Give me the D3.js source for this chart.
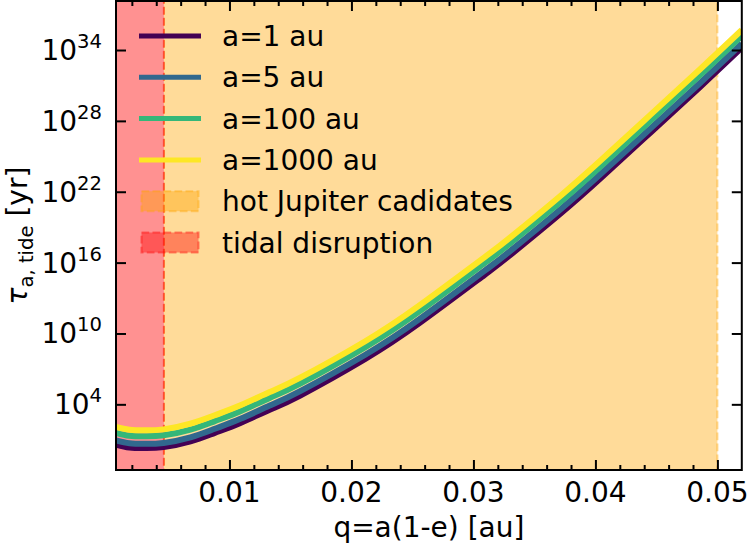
<!DOCTYPE html>
<html>
<head>
<meta charset="utf-8">
<script src="https://cdn.jsdelivr.net/npm/d3@7/dist/d3.min.js"></script>
<style>
  html, body { margin: 0; padding: 0; background: #fff; }
  svg { display: block; }
  text { font-family: "DejaVu Sans", sans-serif; fill: #000; }
</style>
</head>
<body>
<svg id="chart" width="749" height="546"></svg>
<script>
// ---------------- data ----------------
const q = [0.0007, 0.0018, 0.0031, 0.0046, 0.0068, 0.0088, 0.0109, 0.0133, 0.0158,
           0.0211, 0.0256, 0.0309, 0.0330, 0.0371, 0.0404, 0.0445, 0.0486, 0.0520];
const tau_a1 = [3.9, 2.2, 2.0, 2.4, 7.2, 38, 2.6e2, 3.5e3, 5.6e4,
                6.6e7, 7.8e10, 8.9e14, 4.2e16, 1.3e20, 1.3e23, 1.0e27, 7.8e30, 1.6e34];
const tau_a5 = [8.7, 5.0, 4.5, 5.4, 16, 85, 5.9e2, 7.8e3, 1.3e5,
                1.5e8, 1.7e11, 2.0e15, 9.3e16, 3.0e20, 3.0e23, 2.2e27, 1.7e31, 3.5e34];
const tau_a100 = [39, 22, 20, 24, 72, 3.8e2, 2.6e3, 3.5e4, 5.6e5,
                  6.6e8, 7.8e11, 8.9e15, 4.2e17, 1.3e21, 1.3e24, 1.0e28, 7.8e31, 1.6e35];
const tau_a1000 = [1.2e2, 71, 63, 76, 2.3e2, 1.2e3, 8.3e3, 1.1e5, 1.8e6,
                   2.1e9, 2.5e12, 2.8e16, 1.3e18, 4.2e21, 4.2e24, 3.2e28, 2.5e32, 5.0e35];
const seriesLabels = ["a=1 au", "a=5 au", "a=100 au", "a=1000 au"];
const seriesColors = ["#440154", "#31688e", "#35b779", "#fde725"];
const tidalDisruptionQ = 0.00463;
const hotJupiterMaxQ = 0.05;
const xTicks = [0.01, 0.02, 0.03, 0.04, 0.05];
const xTickLabels = ["0.01", "0.02", "0.03", "0.04", "0.05"];
const xMinorTicks = [0.002, 0.004, 0.006, 0.008, 0.012, 0.014, 0.016, 0.018, 0.022, 0.024, 0.026, 0.028,
                     0.032, 0.034, 0.036, 0.038, 0.042, 0.044, 0.046, 0.048];
const yTickExp = [4, 10, 16, 22, 28, 34];
const patchLabels = ["hot Jupiter cadidates", "tidal disruption"];
const xLabel = "q=a(1-e) [au]";

// ---------------- layout ----------------
const L = 116, R = 741.8, T = 1, B = 470;
const FS = 28;
const svg = d3.select("#chart");

const x = d3.scaleLinear().domain([0.0007, 0.052]).range([L, R]);
const y = d3.scaleLog().domain([Math.pow(10, -1.56), Math.pow(10, 38.15)]).range([B, T]);

const ORANGE = "#ffa500", RED = "#ff0000", ALPHA = 0.4;

// clip
svg.append("defs").append("clipPath").attr("id", "clip")
  .append("rect").attr("x", L).attr("y", T).attr("width", R - L).attr("height", B - T);

const plot = svg.append("g").attr("clip-path", "url(#clip)");

// spans
function span(x0, x1, col, op) {
  plot.append("rect")
    .attr("x", x(x0)).attr("y", T - 5)
    .attr("width", x(x1) - x(x0)).attr("height", B - T + 10)
    .attr("fill", col).attr("fill-opacity", op)
    .attr("stroke", col).attr("stroke-opacity", op)
    .attr("stroke-width", 2.1).attr("stroke-dasharray", "7.7,3.3");
}
span(tidalDisruptionQ, hotJupiterMaxQ, ORANGE, ALPHA);
span(0.0001, tidalDisruptionQ, RED, 0.43);

// curves
const allSeries = [tau_a1, tau_a5, tau_a100, tau_a1000];
const line = d3.line()
  .x((d, i) => x(q[i]))
  .y(d => y(d))
  .curve(d3.curveNatural);
allSeries.forEach((s, k) => {
  plot.append("path").datum(s)
    .attr("d", line)
    .attr("fill", "none")
    .attr("stroke", seriesColors[k])
    .attr("stroke-width", 6)
    .attr("stroke-linecap", "butt");
});

// axes (ticks inward on all four sides)
function drawAxis(axis, tx, ty) {
  const g = svg.append("g").attr("transform", `translate(${tx},${ty})`).call(axis);
  g.select(".domain").remove();
  g.selectAll(".tick line").attr("stroke", "#000").attr("stroke-width", 2);
  g.selectAll(".tick text").remove();
  return g;
}
drawAxis(d3.axisBottom(x).tickValues(xTicks).tickSizeInner(-10).tickSizeOuter(0).tickFormat(""), 0, B);
drawAxis(d3.axisBottom(x).tickValues(xMinorTicks).tickSizeInner(-5).tickSizeOuter(0).tickFormat(""), 0, B);
drawAxis(d3.axisTop(x).tickValues(xTicks).tickSizeInner(-10).tickSizeOuter(0).tickFormat(""), 0, T);
drawAxis(d3.axisTop(x).tickValues(xMinorTicks).tickSizeInner(-5).tickSizeOuter(0).tickFormat(""), 0, T);
const yTickVals = yTickExp.map(e => Math.pow(10, e));
drawAxis(d3.axisLeft(y).tickValues(yTickVals).tickSizeInner(-10).tickSizeOuter(0).tickFormat(""), L, 0);
drawAxis(d3.axisRight(y).tickValues(yTickVals).tickSizeInner(-10).tickSizeOuter(0).tickFormat(""), R, 0);

// frame
svg.append("rect").attr("x", L).attr("y", T).attr("width", R - L).attr("height", B - T)
  .attr("fill", "none").attr("stroke", "#000").attr("stroke-width", 2);

// x tick labels
svg.append("g").selectAll("text").data(xTicks).join("text")
  .attr("x", d => x(d)).attr("y", B + 32)
  .attr("text-anchor", "middle").attr("font-size", FS)
  .text((d, i) => xTickLabels[i]);

// y tick labels 10^n
const yl = svg.append("g").selectAll("text").data(yTickExp).join("text")
  .attr("x", 102).attr("y", d => y(Math.pow(10, d)) + 10)
  .attr("text-anchor", "end").attr("font-size", FS);
yl.append("tspan").text("10");
yl.append("tspan").attr("dy", -12).attr("font-size", FS * 0.7).text(d => String(d));

// x label
svg.append("text").attr("x", (L + R) / 2).attr("y", 537)
  .attr("text-anchor", "middle").attr("font-size", FS).text(xLabel);

// y label
const ylab = svg.append("text")
  .attr("transform", `translate(27,${(T + B) / 2}) rotate(-90)`)
  .attr("text-anchor", "middle").attr("font-size", FS);
ylab.append("tspan").attr("font-style", "italic").text("τ");
ylab.append("tspan").attr("dy", 6).attr("font-size", FS * 0.7).text("a, tide");
ylab.append("tspan").attr("dy", -6).text(" [yr]");

// legend
const legX0 = 139, legX1 = 201, legTextX = 222, legY0 = 36, legDY = 41.3;
const lg = svg.append("g");
seriesLabels.forEach((lab, k) => {
  const cy = legY0 + k * legDY;
  lg.append("line").attr("x1", legX0).attr("x2", legX1).attr("y1", cy).attr("y2", cy)
    .attr("stroke", seriesColors[k]).attr("stroke-width", 5);
  lg.append("text").attr("x", legTextX).attr("y", cy + 10).attr("font-size", FS).text(lab);
});
[ORANGE, RED].forEach((col, j) => {
  const cy = legY0 + (4 + j) * legDY;
  lg.append("rect").attr("x", 141.5).attr("y", cy - 10).attr("width", 57).attr("height", 20)
    .attr("fill", col).attr("fill-opacity", ALPHA)
    .attr("stroke", col).attr("stroke-opacity", ALPHA)
    .attr("stroke-width", 2.1).attr("stroke-dasharray", "7.7,3.3");
  lg.append("text").attr("x", legTextX).attr("y", cy + 10).attr("font-size", FS).text(patchLabels[j]);
});
</script>
</body>
</html>
